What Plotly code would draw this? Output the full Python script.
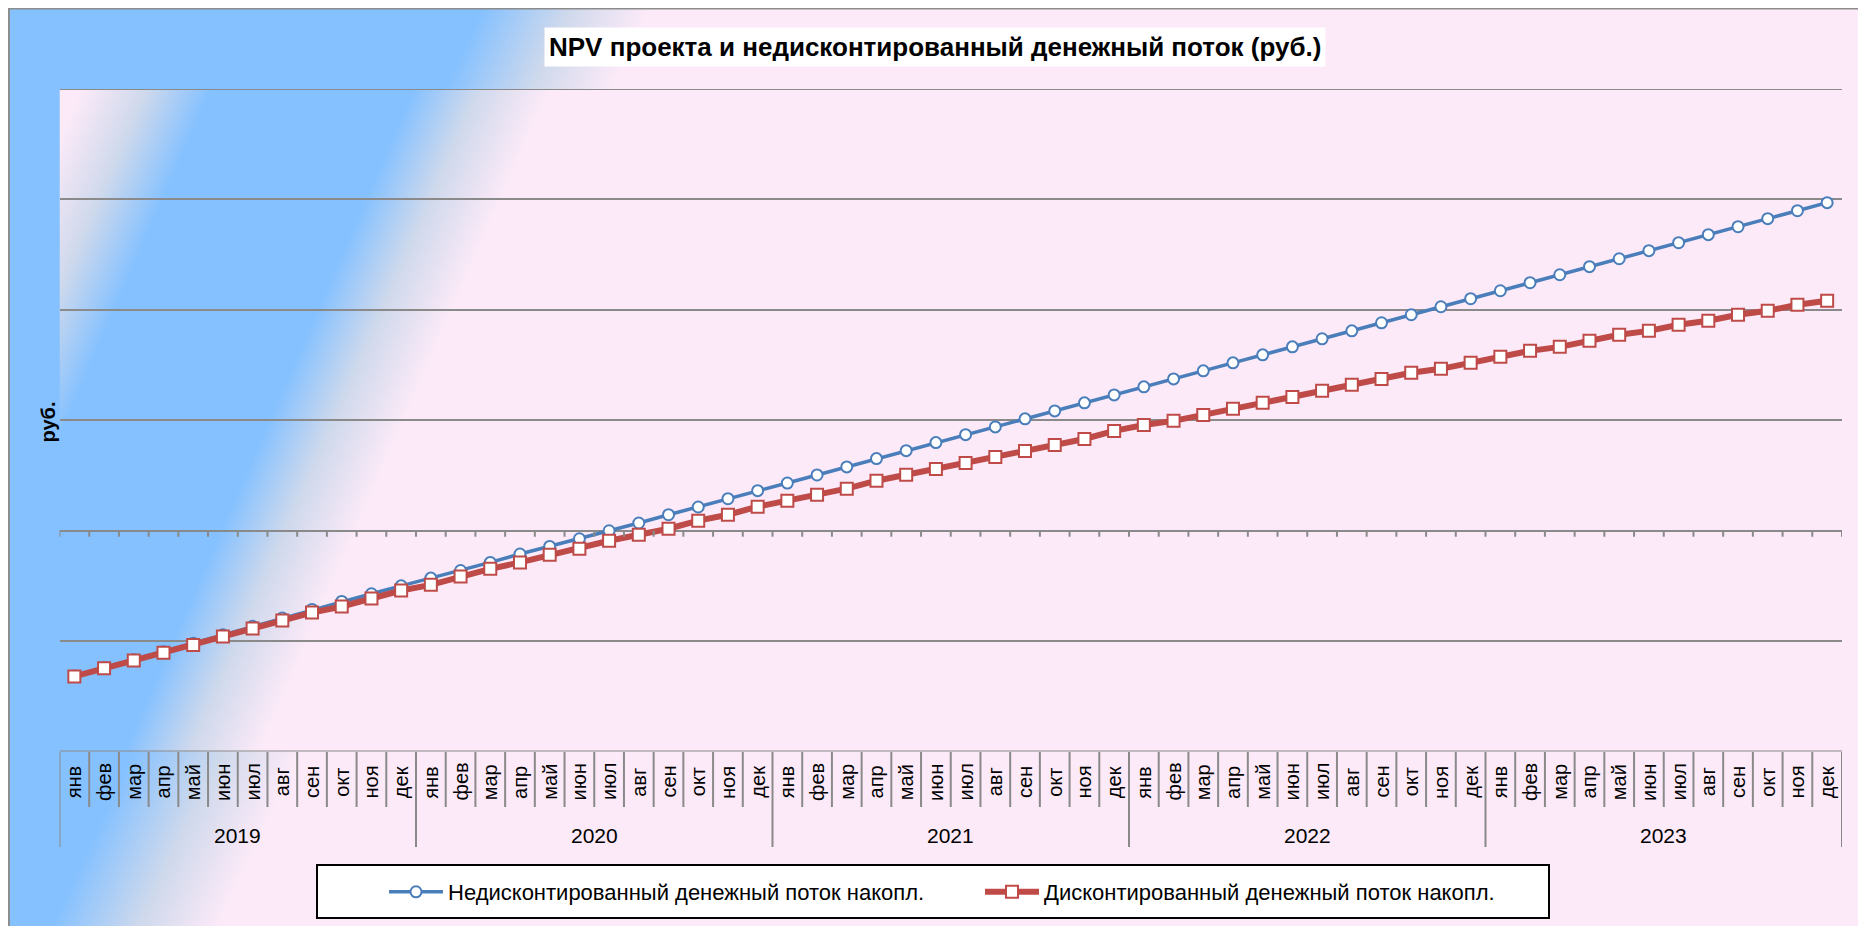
import base64
import plotly.graph_objects as go

# The page body has an 8px margin, so the figure is sized to fill the window
OFF = 8
W, H = 1852, 918

# ---------------- data ----------------
years = ["2019", "2020", "2021", "2022", "2023"]
months = ["янв", "фев", "мар", "апр", "май", "июн", "июл", "авг", "сен", "окт", "ноя", "дек"]

undiscounted_cum = [
    -1.315, -1.240, -1.168, -1.095, -1.018, -0.942, -0.866, -0.790, -0.713, -0.640,
    -0.571, -0.499, -0.429, -0.360, -0.287, -0.211, -0.142, -0.073, 0.000, 0.070,
    0.145, 0.215, 0.290, 0.363, 0.432, 0.505, 0.578, 0.653, 0.725, 0.798,
    0.870, 0.940, 1.013, 1.085, 1.158, 1.230, 1.303, 1.375, 1.448, 1.520,
    1.593, 1.665, 1.738, 1.810, 1.883, 1.956, 2.028, 2.101, 2.173, 2.246,
    2.318, 2.391, 2.463, 2.536, 2.608, 2.681, 2.753, 2.826, 2.898, 2.971,
]
discounted_cum = [
    -1.319, -1.245, -1.176, -1.106, -1.034, -0.958, -0.886, -0.813, -0.741, -0.686,
    -0.614, -0.541, -0.490, -0.414, -0.345, -0.287, -0.218, -0.163, -0.091, -0.036,
    0.018, 0.091, 0.145, 0.218, 0.272, 0.326, 0.381, 0.453, 0.508, 0.559,
    0.614, 0.668, 0.723, 0.777, 0.831, 0.904, 0.958, 0.995, 1.049, 1.104,
    1.158, 1.212, 1.267, 1.321, 1.375, 1.430, 1.466, 1.520, 1.575, 1.629,
    1.665, 1.720, 1.774, 1.810, 1.865, 1.901, 1.956, 1.992, 2.046, 2.083,
]
series_names = ["Недисконтированный денежный поток накопл.",
                "Дисконтированный денежный поток накопл."]
chart_title = "NPV проекта и недисконтированный денежный поток (руб.)"
y_title = "руб."

categories = [f"{m} {y}" for y in years for m in months]
n_cat = len(categories)
Y_MIN, Y_MAX = -2, 4

# ---------------- helpers (screen px -> paper) ----------------
def X(px):
    return (px - OFF) / W

def Y(py):
    return 1 - (py - OFF) / H

FONT = "Liberation Sans, Arial, sans-serif"
BLUE_BG = "#85C1FF"
PINK_BG = "#FCEAF8"
MID_BG = "#CFD9EC"
GRID = "#8A8A8A"

PLOT_L, PLOT_R, PLOT_T, PLOT_B = 59.5, 1842.0, 89.0, 751.6


def gradient_svg(x, y, w, h, stops, gx=905, gy=425):
    st = "".join(f'<stop offset="{o}" stop-color="{c}"/>' for o, c in stops)
    svg = (f'<svg xmlns="http://www.w3.org/2000/svg" width="{w}" height="{h}" '
           f'viewBox="{x} {y} {w} {h}" preserveAspectRatio="none">'
           f'<defs><linearGradient id="g" gradientUnits="userSpaceOnUse" '
           f'x1="0" y1="0" x2="{gx}" y2="{gy}">{st}</linearGradient></defs>'
           f'<rect x="{x}" y="{y}" width="{w}" height="{h}" fill="url(#g)"/></svg>')
    return "data:image/svg+xml;base64," + base64.b64encode(svg.encode()).decode()


chart_bg = gradient_svg(OFF, OFF, W, H, [
    (0, BLUE_BG), (0.44, BLUE_BG), (0.52, MID_BG), (0.592, PINK_BG), (1, PINK_BG)])
plot_bg = gradient_svg(PLOT_L, PLOT_T, PLOT_R - PLOT_L, PLOT_B - PLOT_T, [
    (0, PINK_BG), (0.11, PINK_BG), (0.17, MID_BG), (0.23, BLUE_BG),
    (0.415, BLUE_BG), (0.475, MID_BG), (0.54, PINK_BG), (1, PINK_BG)],
    gx=915, gy=400)

# ---------------- figure ----------------
fig = go.Figure()
fig.add_trace(go.Scatter(
    x=categories, y=undiscounted_cum, name=series_names[0], mode="lines+markers",
    line=dict(color="#4A7EBB", width=3.5),
    marker=dict(symbol="circle", size=11, color="white",
                line=dict(color="#4A7EBB", width=2)),
    legend="legend"))
fig.add_trace(go.Scatter(
    x=categories, y=discounted_cum, name=series_names[1], mode="lines+markers",
    line=dict(color="#BE4B48", width=6),
    marker=dict(symbol="square", size=12, color="white",
                line=dict(color="#BE4B48", width=2)),
    legend="legend2"))

shapes = []
# chart border (paper edge)
shapes.append(dict(type="rect", xref="paper", yref="paper", x0=0.0005, x1=0.9995,
                   y0=-0.01, y1=0.9995, line=dict(color="#8C8C8C", width=2),
                   layer="above"))
# legend frame
shapes.append(dict(type="rect", xref="paper", yref="paper", x0=X(317), x1=X(1549),
                   y0=Y(918), y1=Y(865), line=dict(color="black", width=2),
                   fillcolor="white", layer="above"))
# gridlines on the edges of the value range (plotly omits them)
for v in (Y_MIN, Y_MAX):
    shapes.append(dict(type="line", xref="x", yref="y", x0=-0.5, x1=n_cat - 0.5,
                       y0=v, y1=v, line=dict(color=GRID, width=2), layer="above"))
# ticks on the zero line and divider lines of the category axis
for i in range(n_cat + 1):
    shapes.append(dict(type="line", xref="x", yref="y", x0=i - 0.5, x1=i - 0.5,
                       ysizemode="pixel", yanchor=0, y0=0, y1=-6,
                       line=dict(color=GRID, width=2), layer="above"))
    bottom = 847 if i % len(months) == 0 else 807
    shapes.append(dict(type="line", xref="x", yref="paper", x0=i - 0.5, x1=i - 0.5,
                       y0=Y(752), y1=Y(bottom),
                       line=dict(color=GRID, width=2), layer="above"))

annotations = []
annotations.append(dict(text=f"<b>{chart_title}</b>", xref="paper", yref="paper",
                        x=X(935), y=Y(46.5), xanchor="center", yanchor="middle",
                        showarrow=False, bgcolor="white", borderpad=4,
                        font=dict(family=FONT, size=26, color="black")))
annotations.append(dict(text=f"<b>{y_title}</b>", xref="paper", yref="paper",
                        x=X(47.5), y=Y(422), xanchor="center", yanchor="middle",
                        textangle=-90, showarrow=False,
                        font=dict(family=FONT, size=20, color="black")))
for i, c in enumerate(categories):
    annotations.append(dict(text=months[i % len(months)], xref="x", yref="paper",
                            x=c, y=Y(782), xanchor="center", yanchor="middle",
                            textangle=-90, showarrow=False,
                            font=dict(family=FONT, size=20, color="black")))
for k, yr in enumerate(years):
    annotations.append(dict(text=yr, xref="x", yref="paper",
                            x=k * len(months) + (len(months) - 1) / 2, y=Y(835),
                            xanchor="center", yanchor="middle", showarrow=False,
                            font=dict(family=FONT, size=21, color="black")))

legend_common = dict(orientation="h", bgcolor="rgba(0,0,0,0)", borderwidth=0,
                     yanchor="middle", xanchor="left", itemwidth=54,
                     font=dict(family=FONT, size=22, color="black"))

fig.update_layout(
    width=W, height=H, autosize=False,
    margin=dict(l=0, r=0, t=0, b=0, pad=0),
    paper_bgcolor="white", plot_bgcolor="rgba(0,0,0,0)",
    showlegend=True,
    legend=dict(x=X(384), y=Y(892), **legend_common),
    legend2=dict(x=X(980), y=Y(892), **legend_common),
    xaxis=dict(domain=[X(PLOT_L), X(PLOT_R)], type="category",
               categoryorder="array", categoryarray=categories,
               range=[-0.5, n_cat - 0.5], showticklabels=False, showgrid=False,
               zeroline=False, showline=False, ticks=""),
    yaxis=dict(domain=[Y(PLOT_B), Y(PLOT_T)], range=[Y_MIN, Y_MAX], dtick=1, tick0=0,
               showgrid=True, gridcolor=GRID, gridwidth=2, showticklabels=False,
               zeroline=False, showline=False, ticks=""),
    images=[
        dict(source=chart_bg, xref="paper", yref="paper", x=0, y=1,
             sizex=1, sizey=1, xanchor="left", yanchor="top",
             sizing="stretch", layer="below"),
        dict(source=plot_bg, xref="paper", yref="paper", x=X(PLOT_L), y=Y(PLOT_T),
             sizex=(PLOT_R - PLOT_L) / W, sizey=(PLOT_B - PLOT_T) / H,
             xanchor="left", yanchor="top", sizing="stretch", layer="below"),
    ],
    shapes=shapes,
    annotations=annotations,
)

fig.write_html("out.html")
